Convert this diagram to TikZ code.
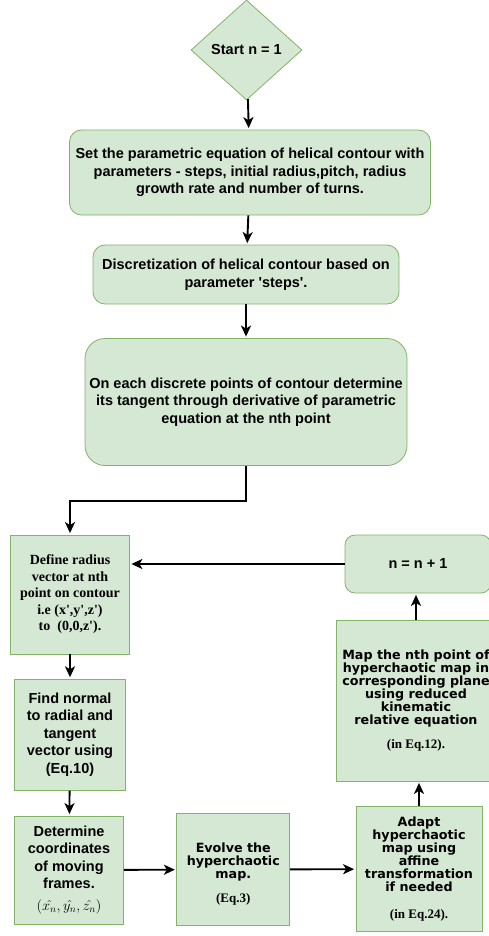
\documentclass[tikz,border=0pt]{standalone}
\usepackage{amsmath}
\usepackage{fontspec}
\usepackage{tikz}
\usetikzlibrary{shapes.geometric,arrows.meta,calc}
\setmainfont{Liberation Sans}
\newfontfamily\verdfont{DejaVu Sans}
\newfontfamily\timesfont{Liberation Serif}
\definecolor{boxfill}{HTML}{D5E8D4}
\definecolor{boxline}{HTML}{82B366}
\newcommand{\eqsrc}[1]{{\timesfont\bfseries\fontsize{13}{13}\selectfont #1}}
\newcommand{\sq}{\textquotesingle}

\begin{document}
\begin{tikzpicture}[x=1pt,y=-1pt,
    >={Stealth[length=11pt,width=10pt,inset=3pt]},
    box/.style={draw=boxline,fill=boxfill,line width=0.8pt,align=center,inner sep=2pt},
    roundbox/.style={box,rounded corners=12pt},
    arialtxt/.style={font=\bfseries\fontsize{14.5}{17.5}\selectfont},
    verdtxt/.style={font=\verdfont\bfseries\fontsize{12.7}{12.9}\selectfont},
    flow/.style={->,line width=1.9pt,shorten >=1.5pt}]
    \useasboundingbox (0,0) rectangle (489,936);

    \node[box,diamond,arialtxt,minimum width=111pt,minimum height=100pt,inner sep=0pt] (start) at (246.5,50) {Start n = 1};
    \node[roundbox,arialtxt,minimum width=361pt,minimum height=85pt] (setEq) at (250,172.5) {Set the parametric equation of helical contour with\\parameters - steps, initial radius,pitch, radius\\growth rate and number of turns.};
    \node[roundbox,arialtxt,minimum width=306pt,minimum height=59pt] (discr) at (246,274.5) {Discretization of helical contour based on\\parameter \sq steps\sq.};
    \node[roundbox,rounded corners=20pt,arialtxt,minimum width=322pt,minimum height=127pt] (tangent) at (246,402) {On each discrete points of contour determine\\its tangent through derivative of parametric\\equation at the nth point};

    \node[box,font=\timesfont\bfseries\fontsize{14}{16.5}\selectfont,minimum width=119pt,minimum height=119pt] (define) at (70,594.5) {Define radius\\vector at nth\\point on contour\\i.e (x\sq,y\sq,z\sq)\\to\ \ (0,0,z\sq).};
    \node[box,arialtxt,minimum width=111pt,minimum height=111pt] (normal) at (70,734.7) {Find normal\\to radial and\\tangent\\vector using\\(Eq.10)};
    \node[box,arialtxt,minimum width=109pt,minimum height=108pt] (frames) at (69,870) {Determine\\coordinates\\of moving\\frames.\\[4pt]$(\hat{x_n},\hat{y_n},\hat{z_n})$};
    \node[box,verdtxt,minimum width=113pt,minimum height=112pt] (evolve) at (233.3,869.5) {\mbox{}\\[6pt]Evolve the\\hyperchaotic\\map.\\[11pt]\eqsrc{(Eq.3)}};
    \node[box,verdtxt,minimum width=126pt,minimum height=125pt] (adapt) at (419,869) {Adapt\\hyperchaotic\\map using\\affine\\transformation\\if needed\\[14pt]\eqsrc{(in Eq.24).}};
    \node[box,verdtxt,minimum width=160pt,minimum height=161pt] (mapEq) at (416,700.5) {Map the nth point of\\hyperchaotic map in\\corresponding plane\\using reduced\\kinematic\\relative equation\\[11pt]\eqsrc{(in Eq.12).}};
    \node[roundbox,rounded corners=10pt,arialtxt,minimum width=146pt,minimum height=58pt] (incr) at (418,564) {n = n + 1};

    \draw[flow] (start) -- (setEq);
    \draw[flow] (setEq) -- (discr);
    \draw[flow] (discr) -- (tangent);
    \draw[flow] (tangent.south) -- ++(0,35) -| (define.north);
    \draw[flow] (define) -- (normal);
    \draw[flow] (normal) -- (frames);
    \draw[flow] (frames) -- (evolve);
    \draw[flow] (evolve) -- (adapt);
    \draw[flow] (adapt.north) -- (adapt.north |- mapEq.south);
    \draw[flow] (mapEq.north) -- (mapEq.north |- incr.south);
    \draw[flow] (incr.west) -- (incr.west -| define.east);
\end{tikzpicture}
\end{document}
